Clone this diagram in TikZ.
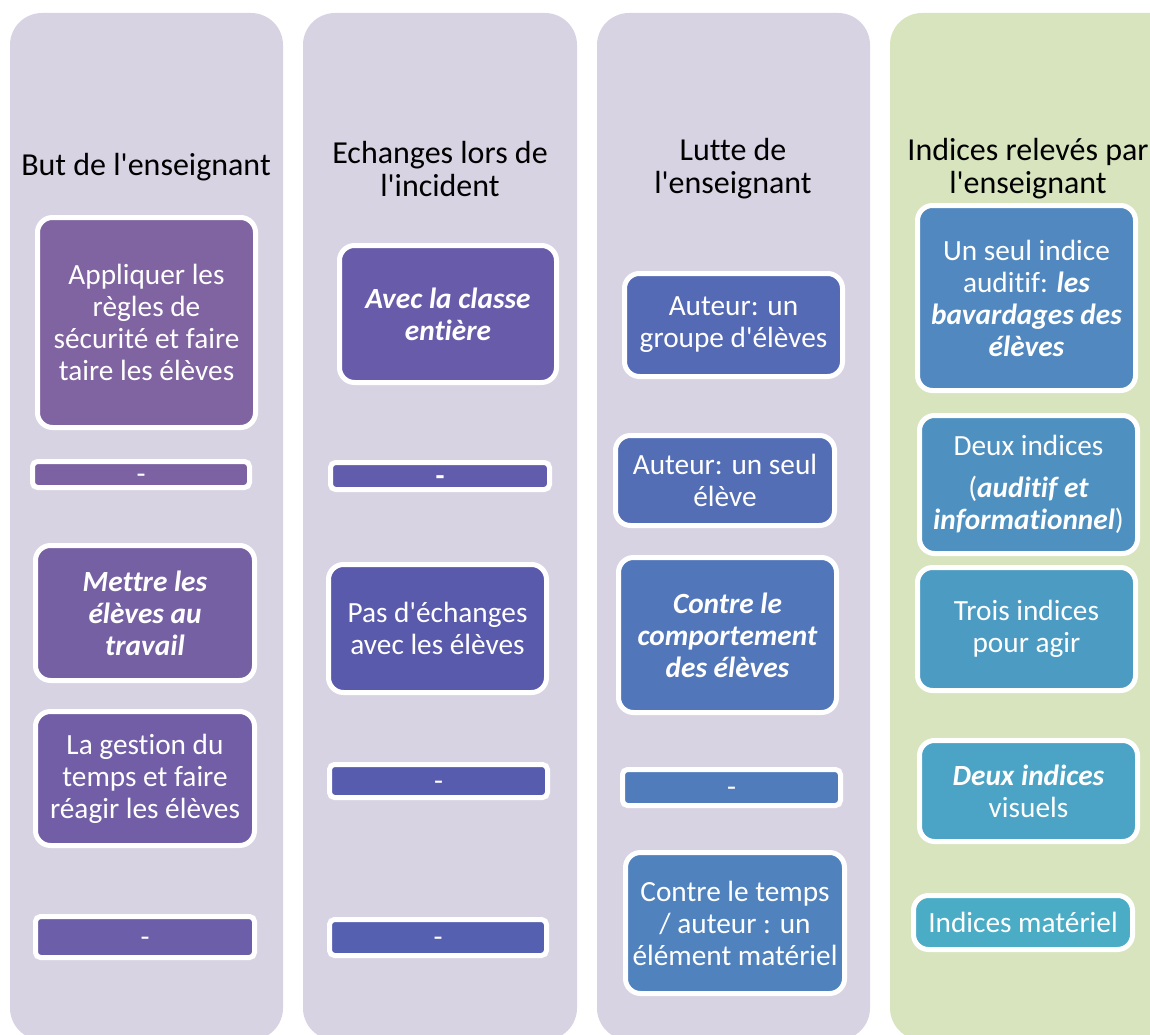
\documentclass[tikz,border=0pt]{standalone}
\usepackage{fontspec}
\setmainfont{Carlito}[Ligatures={TeXOff,NoCommon}]
\definecolor{lav}{HTML}{D8D3E3}
\definecolor{grn}{HTML}{D7E4BE}
\definecolor{cA}{HTML}{8063A1}
\definecolor{cB}{HTML}{7C62A2}
\definecolor{cC}{HTML}{7660A4}
\definecolor{cD}{HTML}{715EA6}
\definecolor{cE}{HTML}{6C5EA8}
\definecolor{cF}{HTML}{685CAA}
\definecolor{cG}{HTML}{625CAC}
\definecolor{cH}{HTML}{5A5AAC}
\definecolor{cI}{HTML}{585CAF}
\definecolor{cJ}{HTML}{5660B1}
\definecolor{cK}{HTML}{556AB4}
\definecolor{cL}{HTML}{546EB6}
\definecolor{cM}{HTML}{5276BA}
\definecolor{cN}{HTML}{517CBC}
\definecolor{cO}{HTML}{5082BE}
\definecolor{cP}{HTML}{5088BF}
\definecolor{cQ}{HTML}{4E90C0}
\definecolor{cR}{HTML}{4C9BC3}
\definecolor{cS}{HTML}{4BA3C5}
\definecolor{cT}{HTML}{4BACC6}
\tikzset{
  colbg/.style={rounded corners=32pt},
  head/.style={align=center, text=black, font=\fontsize{32}{33}\selectfont, inner sep=0pt},
  card/.style={draw=white, line width=5pt, rounded corners=15pt, align=center, text=white,
    font=\fontsize{29.3}{32}\selectfont, inner sep=0pt},
  bar/.style={draw=white, line width=5pt, rounded corners=5pt, text=white,
    font=\fontsize{29.3}{32}\selectfont, inner sep=0pt},
}
\newcommand{\bi}[1]{\textbf{\textit{#1}}}
\newcommand{\dsh}{\raisebox{-9pt}[0pt][0pt]{-}}
% \mybox{style}{name}{x1}{y1}{x2}{y2}{color}{text}
\newcommand{\mybox}[8]{%
  \pgfmathsetmacro{\cx}{(#3+#5)/2}\pgfmathsetmacro{\cy}{(#4+#6)/2}%
  \pgfmathsetmacro{\ww}{#5-#3-5}\pgfmathsetmacro{\hh}{#6-#4-5}%
  \node[#1, fill=#7, minimum width=\ww pt, minimum height=\hh pt] (#2) at (\cx,\cy) {#8};}
\begin{document}
\begin{tikzpicture}[x=1pt,y=-1pt]
\useasboundingbox (0,0) rectangle (1150,1035);
\clip (0,0) rectangle (1150,1035);
% columns
\fill[lav, colbg] (10,13) rectangle (283,1040);
\fill[lav, colbg] (303,13) rectangle (577,1040);
\fill[lav, colbg] (597,13) rectangle (870,1040);
\fill[grn, colbg] (890,13) rectangle (1185,1040);
% headers
\node[head] (h1) at (146,167) {But de l'enseignant};
\node[head] (h2) at (440,169) {Echanges lors de\\l'incident};
\node[head] (h3) at (733,169) {Lutte de\\l'enseignant};
\node[head] (h4) at (1028,169) {Indices relevés par\\l'enseignant};
% column 1
\mybox{card}{a1}{35}{215}{258}{430}{cA}{Appliquer les\\règles de\\sécurité et faire\\taire les élèves}
\mybox{bar}{a2}{30}{459}{252}{490}{cB}{\dsh}
\mybox{card}{a3}{33}{543}{257}{683}{cC}{\bi{Mettre les}\\\bi{élèves au}\\\bi{travail}}
\mybox{card}{a4}{33}{709}{257}{848}{cD}{La gestion du\\temps et faire\\réagir les élèves}
\mybox{bar}{a5}{33}{914}{257}{960}{cE}{\dsh}
% column 2
\mybox{card}{b1}{337}{243}{559}{385}{cF}{\bi{Avec la classe}\\\bi{entière}}
\mybox{bar}{b2}{328}{460}{552}{492}{cG}{\textbf{\dsh}}
\mybox{card}{b3}{326}{562}{549}{695}{cH}{Pas d'échanges\\avec les élèves}
\mybox{bar}{b4}{327}{762}{550}{800}{cI}{\dsh}
\mybox{bar}{b5}{327}{917}{549}{958}{cJ}{\dsh}
% column 3
\mybox{card}{c1}{622}{271}{845}{379}{cK}{Auteur: un\\groupe d'élèves}
\mybox{card}{c2}{613}{433}{837}{528}{cL}{Auteur: un seul\\élève}
\mybox{card}{c3}{616}{555}{839}{715}{cM}{\bi{Contre le}\\\bi{comportement}\\\bi{des élèves}}
\mybox{bar}{c4}{620}{767}{843}{808}{cN}{\dsh}
\mybox{card}{c5}{623}{850}{847}{996}{cO}{Contre le temps\\/ auteur : un\\élément matériel}
% column 4
\mybox{card}{d1}{915}{203}{1138}{393}{cP}{Un seul indice\\auditif: \bi{les}\\\bi{bavardages des}\\\bi{élèves}}
\mybox{card}{d2}{917}{413}{1140}{556}{cQ}{Deux indices\\[10pt](\bi{auditif et}\\\bi{informationnel})}
\mybox{card}{d3}{915}{565}{1138}{693}{cR}{Trois indices\\pour agir}
\mybox{card}{d4}{917}{738}{1140}{844}{cS}{\bi{Deux indices}\\visuels}
\mybox{card}{d5}{911}{893}{1135}{952}{cT}{Indices matériel}
\end{tikzpicture}
\end{document}
